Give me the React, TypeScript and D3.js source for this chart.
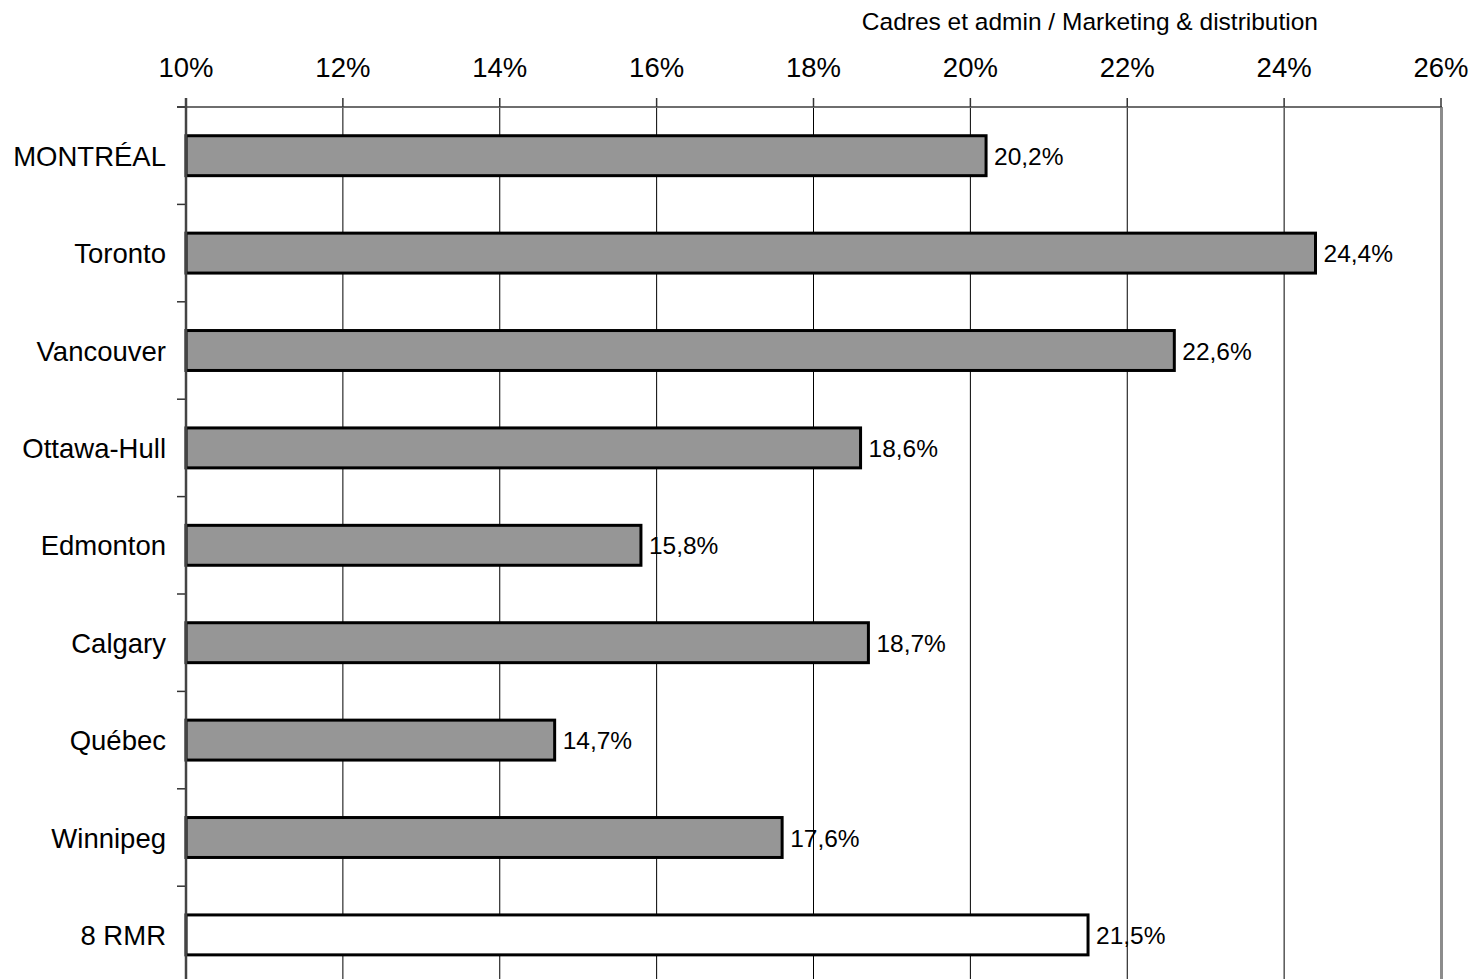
import React from "react";
import * as d3 from "d3";

const categories = ["MONTRÉAL", "Toronto", "Vancouver", "Ottawa-Hull", "Edmonton", "Calgary", "Québec", "Winnipeg", "8 RMR"];
const values = [20.2, 24.4, 22.6, 18.6, 15.8, 18.7, 14.7, 17.6, 21.5];
const highlight = ["8 RMR"];
const xTicks = [10, 12, 14, 16, 18, 20, 22, 24, 26];
const title = "Cadres et admin / Marketing & distribution";

const W = 1475;
const H = 979;
const left = 186;
const right = 1441;
const top = 107;
const bottom = 983.6;
const FONT = "Liberation Sans, Arial, sans-serif";

export default function App() {
  const x = d3.scaleLinear().domain([10, 26]).range([left, right]);
  const y = d3
    .scaleBand<string>()
    .domain(categories)
    .range([top, bottom])
    .paddingInner(0.59)
    .paddingOuter(0.295);
  const step = y.step();
  const bounds = d3.range(categories.length + 1).map((i) => top + i * step);
  const fmt = (v: number) => v.toFixed(1).replace(".", ",") + "%";

  return (
    <svg
      width={W}
      height={H}
      style={{ position: "absolute", left: 0, top: 0, background: "#fff" }}
      fontFamily={FONT}
    >
      <rect x={0} y={0} width={W} height={H} fill="#fff" />
      <text x={1318} y={30} fontSize={24.5} textAnchor="end" fill="#000">
        {title}
      </text>
      {/* gridlines */}
      {xTicks.slice(1, -1).map((t) => (
        <line key={"g" + t} x1={x(t)} x2={x(t)} y1={top} y2={bottom} stroke="#000" strokeWidth={1} />
      ))}
      {/* right border */}
      <line x1={right + 0.5} x2={right + 0.5} y1={top} y2={bottom} stroke="#8c8c8c" strokeWidth={3} />
      {/* top axis */}
      <line x1={left - 9} x2={right + 1} y1={top} y2={top} stroke="#6e6e6e" strokeWidth={2} />
      {xTicks.map((t) => (
        <g key={"t" + t}>
          <line x1={x(t)} x2={x(t)} y1={top - 9} y2={top} stroke="#333" strokeWidth={1.5} />
          <text x={x(t)} y={77} fontSize={27.5} textAnchor="middle" fill="#000">
            {t}%
          </text>
        </g>
      ))}
      {/* left axis */}
      {bounds.map((b, i) => (
        <line key={"lt" + i} x1={left - 9} x2={left} y1={b} y2={b} stroke="#333" strokeWidth={1.5} />
      ))}
      {/* bars */}
      {categories.map((c, i) => {
        const y0 = y(c)!;
        const bh = y.bandwidth();
        return (
          <g key={c}>
            <rect
              x={x(10)}
              y={y0}
              width={x(values[i]) - x(10)}
              height={bh}
              fill={highlight.includes(c) ? "#ffffff" : "#969696"}
              stroke="#000"
              strokeWidth={3}
            />
            <text x={x(values[i]) + 8} y={y0 + bh / 2 + 9} fontSize={24.5} fill="#000">
              {fmt(values[i])}
            </text>
            <text x={left - 20} y={y0 + bh / 2 + 10} fontSize={27.5} textAnchor="end" fill="#000">
              {c}
            </text>
          </g>
        );
      })}
      <line x1={left} x2={left} y1={top - 9} y2={bottom} stroke="#444" strokeWidth={2.5} />
    </svg>
  );
}
